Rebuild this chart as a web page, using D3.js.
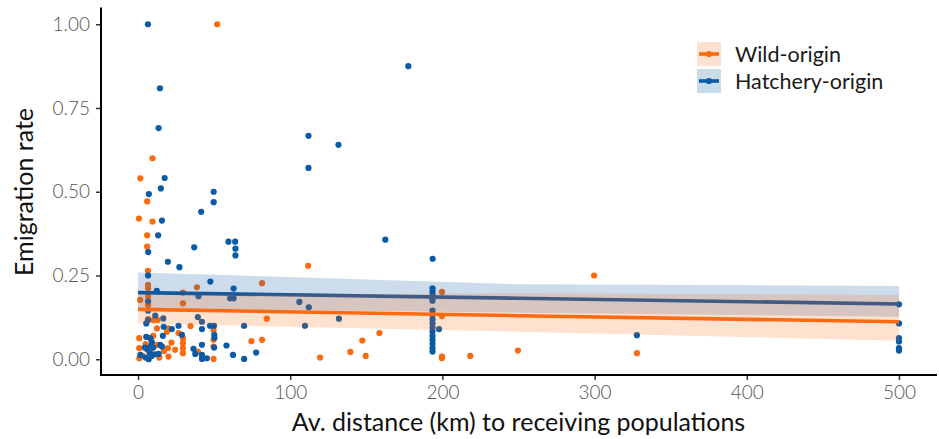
<!DOCTYPE html>
<html><head><meta charset="utf-8">
<script src="https://cdn.jsdelivr.net/npm/d3@7"></script>
<style>
html,body{margin:0;padding:0;background:#fff;}
svg{display:block;font-family:Lato,"Open Sans",sans-serif;}
</style></head><body>
<div id="chart"></div>
<script>
// ---- data ----
const wildX = [52,9.5,1.5,6,0.6,9.5,6,6,6.5,6.6,6.6,6.6,1.4,6.6,29.5,29.5,38.7,81.5,84.6,111.8,10.2,12.4,20,34.5,19,26.6,29.5,29.5,29.5,29.5,24.4,19.6,20,12.8,0.8,0.8,0.8,49.6,49.6,49.6,49.6,74.5,81.5,39.3,119.6,139.5,147.4,149.6,158.6,199.7,199.7,199.7,199.7,218.3,249.6,299.7,327.8,6.5,8,5,14,10,17,3,22,12.8];
const wildY = [1.00,0.60,0.54,0.471,0.42,0.411,0.37,0.336,0.264,0.222,0.212,0.187,0.177,0.162,0.199,0.167,0.215,0.227,0.121,0.279,0.117,0.092,0.092,0.099,0.082,0.078,0.063,0.048,0.033,0.018,0.028,0.033,0.008,0.043,0.063,0.033,0.003,0.087,0.058,0.038,0.001,0.054,0.058,0.023,0.005,0.022,0.056,0.010,0.078,0.201,0.129,0.008,0.003,0.010,0.026,0.25,0.018,0.12,0.02,0.045,0.005,0.07,0.025,0.01,0.05,0.117];
const hatchX = [6.5,14.4,13.5,177.6,112,112,131.7,17.5,15,7.1,49.7,49.7,41.5,15.7,13.2,6.7,59.4,63.8,64,64,36.9,19.6,27.2,6.6,162.5,193.6,47.5,62.8,39.7,60.5,62.8,12.3,106,112.2,132,109.7,6.6,11.3,16.6,6.6,5.4,16.8,22.2,26.6,39.3,42,42,47.3,49.9,50.1,50.2,69.7,28.8,16.3,5.4,8,9.1,14.6,15.7,13.5,42,50,58.1,36.4,37.6,42,45.2,42,62.4,69.7,77.6,1.5,6,7.5,9,5,7,10,8.5,4.5,11,6.6,193.5,193.5,193.5,193.5,193.5,193.5,193.5,193.5,193.5,193.5,193.5,193.5,193.5,193.5,193.5,193.5,197.8,327.8,500,500,500,500,500,500];
const hatchY = [1.00,0.809,0.69,0.875,0.667,0.571,0.640,0.541,0.51,0.493,0.50,0.469,0.44,0.414,0.37,0.32,0.351,0.351,0.33,0.31,0.334,0.291,0.275,0.25,0.357,0.30,0.232,0.211,0.188,0.182,0.182,0.204,0.171,0.155,0.121,0.10,0.173,0.13,0.122,0.117,0.107,0.097,0.09,0.10,0.126,0.112,0.09,0.10,0.10,0.073,0.064,0.10,0.073,0.07,0.067,0.063,0.051,0.043,0.038,0.016,0.043,0.035,0.041,0.031,0.016,0.013,0.003,0.001,0.013,0.001,0.02,0.013,0.03,0.02,0.01,0.005,0.0,0.035,0.04,0.035,0.015,0.145,0.212,0.202,0.192,0.182,0.175,0.145,0.132,0.119,0.107,0.095,0.083,0.070,0.058,0.046,0.033,0.023,0.09,0.072,0.164,0.107,0.063,0.053,0.033,0.026];

// fitted trends
const fitX = [0,250,500];
const wildFit = [0.149,0.130,0.112];
const wildLo  = [0.107,0.082,0.055];
const wildHi  = [0.192,0.197,0.192];
const hatchFit = [0.199,0.182,0.165];
const hatchLo  = [0.152,0.139,0.127];
const hatchHi  = [0.259,0.224,0.219];

const xTicks = [0,100,200,300,400,500];
const yTicks = [0,0.25,0.5,0.75,1];
const yTickLabels = ["0.00","0.25","0.50","0.75","1.00"];
const seriesNames = ["Wild-origin","Hatchery-origin"];

// ---- layout ----
const W=939,H=439;
const C_OR="#fb6a0c", C_BL="#0b5aa6";
const svg=d3.select("#chart").append("svg").attr("width",W).attr("height",H);
const x=d3.scaleLinear().domain([-25,525]).range([100,937]);
const y=d3.scaleLinear().domain([-0.05,1.05]).range([376,7.5]);

// points
const g=svg.append("g");
function pts(xs,ys,col){
  g.append("g").selectAll("circle").data(xs.map((d,i)=>[d,ys[i]])).join("circle")
   .attr("cx",d=>x(d[0])).attr("cy",d=>y(d[1])).attr("r",3.1).attr("fill",col);
}
pts(wildX,wildY,C_OR);
pts(hatchX,hatchY,C_BL);

// ribbons + lines
function smooth(fit,lo,hi,col,fillCol,alpha){
  const area=d3.area().x((d,i)=>x(fitX[i])).y0((d,i)=>y(lo[i])).y1((d,i)=>y(hi[i]));
  g.append("path").datum(fit).attr("d",area).attr("fill",fillCol).attr("fill-opacity",alpha);
  const line=d3.line().x((d,i)=>x(fitX[i])).y(d=>y(d));
  g.append("path").datum(fit).attr("d",line).attr("fill","none").attr("stroke",col).attr("stroke-width",3.6);
}
smooth(hatchFit,hatchLo,hatchHi,"#12589e","#105aa5",0.21);
smooth(wildFit,wildLo,wildHi,"#fd6a10","#ff6913",0.2);

// axes
const ax=svg.append("g").attr("transform","translate(101,0)")
  .call(d3.axisLeft(y).tickValues(yTicks).tickFormat((d,i)=>yTickLabels[i]).tickSize(5).tickPadding(6));
const bx=svg.append("g").attr("transform","translate(0,375)")
  .call(d3.axisBottom(x).tickValues(xTicks).tickFormat(d3.format("d")).tickSize(5).tickPadding(6));
[ax,bx].forEach(a=>{
  a.select(".domain").remove();
  a.selectAll(".tick line").attr("stroke","#333").attr("stroke-width",1.5);
  a.selectAll(".tick text").attr("fill","#555").style("font-size","19px").style("font-weight","300").style("font-family","Lato,sans-serif");
});
svg.append("line").attr("x1",101).attr("x2",101).attr("y1",7.5).attr("y2",376).attr("stroke","#000").attr("stroke-width",2);
svg.append("line").attr("x1",100).attr("x2",937).attr("y1",375).attr("y2",375).attr("stroke","#000").attr("stroke-width",2);

// titles
svg.append("text").attr("x",518.5).attr("y",431).attr("text-anchor","middle")
  .style("font-size","25px").attr("fill","#111").text("Av. distance (km) to receiving populations");
svg.append("text").attr("transform","translate(33,192) rotate(-90)").attr("text-anchor","middle")
  .style("font-size","25px").attr("fill","#111").text("Emigration rate");

// legend
const leg=svg.append("g");
const legCols=[[C_OR,"#fde1d0"],[C_BL,"#c8dbeb"]];
seriesNames.forEach((n,i)=>{
  const y0=42+i*27;
  leg.append("rect").attr("x",697).attr("y",y0).attr("width",24).attr("height",24).attr("fill",legCols[i][1]);
  leg.append("line").attr("x1",699).attr("x2",719).attr("y1",y0+12).attr("y2",y0+12).attr("stroke",legCols[i][0]).attr("stroke-width",3.6);
  leg.append("circle").attr("cx",709).attr("cy",y0+12).attr("r",3.1).attr("fill",legCols[i][0]);
  leg.append("text").attr("x",735).attr("y",y0+19.5).style("font-size","21.5px").attr("fill","#1a1a1a").text(n);
});
</script></body></html>
